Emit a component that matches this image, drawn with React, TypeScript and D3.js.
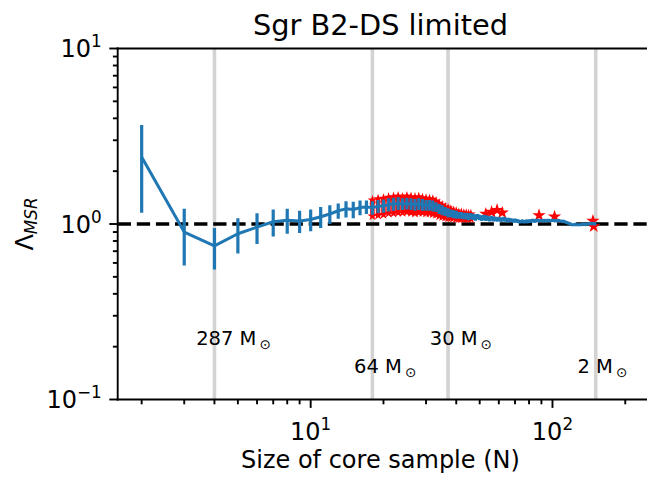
import React from "react";
import * as d3 from "d3";

// ---------- data ----------
const nVals: number[] = d3.range(2, 153);
const lamVals: number[] = [
  2.41, 0.90, 0.75, 0.88, 0.96, 1.03, 1.05, 1.04, 1.06, 1.10, 1.14, 1.19, 1.22, 1.21, 1.24, 1.25, // 2-17
  1.24, 1.26, 1.27, 1.29, 1.30, 1.31, 1.30, 1.31, 1.30, 1.29, 1.30, 1.29, 1.28, 1.28, 1.27, 1.25, 1.22, 1.20, 1.18, 1.16, 1.15, 1.14, 1.13, // 18-40
  1.12, 1.12, 1.11, 1.11, 1.10, 1.11, 1.10, 1.09, 1.10, 1.09, // 41-50
  1.08, 1.09, 1.08, 1.08, 1.07, 1.08, 1.07, 1.07, 1.06, 1.07, // 51-60
  1.06, 1.06, 1.07, 1.06, 1.05, 1.06, 1.05, 1.05, 1.04, 1.05, // 61-70
  1.04, 1.04, 1.03, 1.03, 1.04, 1.03, 1.03, 1.04, 1.03, 1.04, // 71-80
  1.04, 1.04, 1.05, 1.04, 1.04, 1.05, 1.05, 1.04, 1.05, 1.05, // 81-90
  1.04, 1.05, 1.05, 1.04, 1.05, 1.05, 1.05, 1.04, 1.05, 1.05, // 91-100
  1.05, 1.04, 1.05, 1.04, 1.04, 1.05, 1.04, 1.04, 1.04, 1.03, // 101-110
  1.04, 1.03, 1.03, 1.02, 1.02, 1.01, 1.01, 1.00, 1.00, 0.99, // 111-120
  0.99, 0.99, 0.99, 1.00, 0.99, 0.99, 0.99, 0.99, 0.99, 0.99, // 121-130
  0.99, 0.99, 1.00, 1.00, 1.00, 1.00, 0.99, 1.00, 1.00, 1.00, // 131-140
  1.00, 1.00, 1.01, 1.01, 1.00, 1.01, 1.01, 1.00, 1.01, 1.00, 1.00, 1.00, // 141-152
];
const errVals: number[] = [
  1.25, 0.32, 0.20, 0.20, 0.19, 0.18, 0.17, 0.15, 0.15, 0.15, 0.14, 0.12, 0.13, 0.13, 0.12, 0.11, // 2-17
  0.11, 0.11, 0.11, 0.11, 0.11, 0.11, 0.10, 0.10, 0.10, 0.10, 0.10, 0.10, 0.09, 0.09, 0.09, 0.08, 0.08, 0.08, 0.07, 0.07, 0.06, 0.06, 0.06, // 18-40
  0.05, 0.05, 0.05, 0.05, 0.05, 0.045, 0.045, 0.045, 0.04, 0.04, // 41-50
  0.04, 0.04, 0.04, 0.035, 0.035, 0.035, 0.035, 0.03, 0.03, 0.03, // 51-60
  0.03, 0.03, 0.03, 0.03, 0.03, 0.025, 0.025, 0.025, 0.025, 0.025, // 61-70
  0.025, 0.025, 0.02, 0.02, 0.02, 0.02, 0.02, 0.02, 0.02, 0.02, // 71-80
  0.02, 0.02, 0.02, 0.02, 0.02, 0.02, 0.018, 0.018, 0.018, 0.018, // 81-90
  0.018, 0.018, 0.016, 0.016, 0.016, 0.016, 0.015, 0.015, 0.015, 0.015, // 91-100
  0.014, 0.014, 0.014, 0.013, 0.013, 0.013, 0.012, 0.012, 0.012, 0.012, // 101-110
  0.011, 0.011, 0.011, 0.010, 0.010, 0.010, 0.010, 0.009, 0.009, 0.009, // 111-120
  0.008, 0.008, 0.008, 0.008, 0.007, 0.007, 0.007, 0.007, 0.006, 0.006, // 121-130
  0.006, 0.006, 0.005, 0.005, 0.005, 0.005, 0.004, 0.004, 0.004, 0.004, // 131-140
  0.003, 0.003, 0.003, 0.003, 0.003, 0.002, 0.002, 0.002, 0.002, 0.001, 0.001, 0.001, // 141-152
];

// red (limited) points: bars with star markers
const redN: number[] = d3.range(18, 47);
const redLo: number[] = [
  1.11, 1.12, 1.13, 1.15, 1.15, 1.16, 1.16, 1.17, 1.16, 1.15, 1.16, 1.16, 1.15, 1.15, 1.14, 1.13, 1.11, 1.10, 1.09, 1.08, 1.08, 1.08, 1.07,
  1.07, 1.07, 1.07, 1.07, 1.07, 1.07,
];
const redHi: number[] = [
  1.37, 1.39, 1.40, 1.42, 1.43, 1.44, 1.42, 1.44, 1.43, 1.42, 1.43, 1.41, 1.40, 1.39, 1.38, 1.35, 1.31, 1.28, 1.25, 1.23, 1.21, 1.19, 1.18,
  1.16, 1.16, 1.15, 1.15, 1.14, 1.14,
];
const starN: number[] = [53, 56, 59, 62, 88, 102, 147, 148];
const starVal: number[] = [1.14, 1.17, 1.20, 1.16, 1.12, 1.10, 1.04, 0.97];

// reference lines
const refN: number[] = [4, 18, 37, 151];
const refMass: string[] = ["287", "64", "30", "2"];
const refLabelY: number[] = [0.205, 0.142, 0.205, 0.142];

const xDomain: [number, number] = [1.592, 251.2];
const yDomain: [number, number] = [0.1, 10];
const xMajor: number[] = [10, 100];
const xMajorExp: string[] = ["1", "2"];
const xMinor: number[] = [2, 3, 4, 5, 6, 7, 8, 9, 20, 30, 40, 50, 60, 70, 80, 90, 200];
const yMajor: number[] = [0.1, 1, 10];
const yMajorExp: string[] = ["\u22121", "0", "1"];
const yMinor: number[] = [0.2, 0.3, 0.4, 0.5, 0.6, 0.7, 0.8, 0.9, 2, 3, 4, 5, 6, 7, 8, 9];

const title = "Sgr B2-DS limited";
const xLabel = "Size of core sample (N)";

// ---------- layout ----------
const W = 647;
const H = 477;
const L = 117.7;
const R = 649.2;
const T = 48.5;
const B = 399.5;
const FONT = "DejaVu Sans, sans-serif";
const BLUE = "#1f77b4";

export default function App() {
  const x = d3.scaleLog().domain(xDomain).range([L, R]);
  const y = d3.scaleLog().domain(yDomain).range([B, T]);
  const line = d3
    .line<number>()
    .x((_, i) => x(nVals[i]))
    .y((d) => y(d));
  const star = d3.symbol().type(d3.symbolStar).size(55)();
  const starSmall = d3.symbol().type(d3.symbolStar).size(30)();

  return (
    <svg
      width={W}
      height={H}
      style={{ position: "absolute", left: 0, top: 0, background: "#fff" }}
      fontFamily={FONT}
    >
      <rect x={0} y={0} width={W} height={H} fill="#fff" />
      <defs>
        <clipPath id="plot">
          <rect x={L} y={T} width={R - L} height={B - T} />
        </clipPath>
      </defs>
      <g clipPath="url(#plot)">
        {refN.map((n, i) => (
          <line key={"v" + i} x1={x(n)} x2={x(n)} y1={T} y2={B} stroke="#d3d3d3" strokeWidth={3.6} />
        ))}
        <line x1={L} x2={R} y1={y(1)} y2={y(1)} stroke="#000" strokeWidth={3.6} strokeDasharray="13.3 5.8" />
        {/* red limited points */}
        {redN.map((n, i) => (
          <line
            key={"rb" + i}
            x1={x(n)}
            x2={x(n)}
            y1={y(redLo[i])}
            y2={y(redHi[i])}
            stroke="red"
            strokeWidth={4.5}
          />
        ))}
        {redN.map((n, i) => (
          <g key={"rs" + i}>
            <path d={starSmall} transform={`translate(${x(n)},${y(redHi[i])})`} fill="red" />
            <path d={starSmall} transform={`translate(${x(n)},${y(redLo[i])})`} fill="red" />
          </g>
        ))}
        {starN.map((n, i) => (
          <path key={"st" + i} d={star} transform={`translate(${x(n)},${y(starVal[i])})`} fill="red" />
        ))}
        {/* blue error bars */}
        {nVals.map((n, i) => (
          <line
            key={"eb" + i}
            x1={x(n)}
            x2={x(n)}
            y1={y(lamVals[i] - errVals[i])}
            y2={y(lamVals[i] + errVals[i])}
            stroke={BLUE}
            strokeWidth={3.2}
          />
        ))}
        <path d={line(lamVals) || ""} fill="none" stroke={BLUE} strokeWidth={3} strokeLinejoin="round" />
      </g>

      {/* annotations */}
      {refN.map((n, i) => (
        <text key={"a" + i} x={x(n * 0.84)} y={y(refLabelY[i])} fontSize={19.5} fill="#000">
          {refMass[i]} M
          <tspan fontSize={13.5} dx={3} dy={4}>
            {"\u2299"}
          </tspan>
        </text>
      ))}

      {/* spines */}
      <g stroke="#000" strokeWidth={1.9} fill="none" strokeLinecap="square">
        <line x1={L} x2={L} y1={T} y2={B} />
        <line x1={L} x2={R} y1={T} y2={T} />
        <line x1={L} x2={R} y1={B} y2={B} />
        <line x1={R} x2={R} y1={T} y2={B} />
      </g>

      {/* ticks */}
      <g stroke="#000" strokeWidth={1.9}>
        {xMajor.map((v) => (
          <line key={"xM" + v} x1={x(v)} x2={x(v)} y1={B} y2={B + 8.4} />
        ))}
        {xMinor.map((v) => (
          <line key={"xm" + v} x1={x(v)} x2={x(v)} y1={B} y2={B + 4.8} />
        ))}
        {yMajor.map((v) => (
          <line key={"yM" + v} x1={L} x2={L - 8.4} y1={y(v)} y2={y(v)} />
        ))}
        {yMinor.map((v) => (
          <line key={"ym" + v} x1={L} x2={L - 4.8} y1={y(v)} y2={y(v)} />
        ))}
      </g>
      {xMajor.map((v, i) => (
        <text key={"xl" + v} x={x(v)} y={440} fontSize={24} textAnchor="middle" fill="#000">
          10
          <tspan fontSize={16.8} dy={-10}>
            {xMajorExp[i]}
          </tspan>
        </text>
      ))}
      {yMajor.map((v, i) => (
        <text key={"yl" + v} x={L - 16} y={y(v) + 8.5} fontSize={24} textAnchor="end" fill="#000">
          10
          <tspan fontSize={16.8} dy={-10}>
            {yMajorExp[i]}
          </tspan>
        </text>
      ))}

      {/* labels */}
      <text x={(L + R) / 2 - 3} y={468} fontSize={24} textAnchor="middle" fill="#000">
        {xLabel}
      </text>
      <text x={(L + R) / 2 - 3} y={35} fontSize={28.8} textAnchor="middle" fill="#000">
        {title}
      </text>
      <text transform={`translate(33,${(T + B) / 2}) rotate(-90)`} fontSize={24} textAnchor="middle" fill="#000">
        {"\u039B"}
        <tspan fontSize={16.8} fontStyle="italic" dy={4}>
          MSR
        </tspan>
      </text>
    </svg>
  );
}
